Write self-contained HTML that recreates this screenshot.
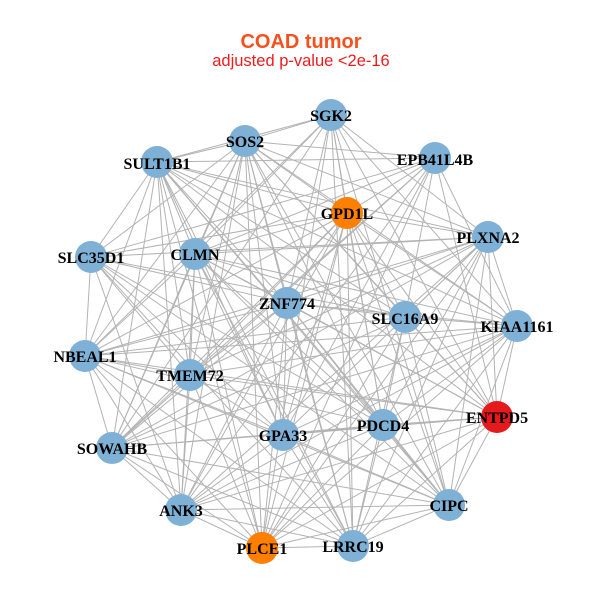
<!DOCTYPE html>
<html><head><meta charset="utf-8"><style>
html,body{margin:0;padding:0;background:#fff;}
svg{display:block}
.l{font-family:"Liberation Serif",serif;font-weight:bold;font-size:16px;fill:#000;text-anchor:middle}
</style></head><body>
<svg id="s" width="600" height="600" viewBox="0 0 600 600">
<rect width="600" height="600" fill="#fff"/>
<text x="301" y="48" text-anchor="middle" font-family="Liberation Sans,sans-serif" font-weight="bold" font-size="20" fill="#f4511e">COAD tumor</text>
<text x="301" y="66" text-anchor="middle" font-family="Liberation Sans,sans-serif" font-size="16.5" fill="#ee1c1c">adjusted p-value &lt;2e-16</text>
<g id="e" stroke="#b3b3b3" stroke-width="1"></g>
<g id="n"></g>
<g>
<text class="l" x="331" y="121">SGK2</text>
<text class="l" x="245" y="147">SOS2</text>
<text class="l" x="157" y="169">SULT1B1</text>
<text class="l" x="435" y="165">EPB41L4B</text>
<text class="l" x="347" y="219">GPD1L</text>
<text class="l" x="488" y="243">PLXNA2</text>
<text class="l" x="91" y="263">SLC35D1</text>
<text class="l" x="195" y="260">CLMN</text>
<text class="l" x="287" y="309">ZNF774</text>
<text class="l" x="405" y="324">SLC16A9</text>
<text class="l" x="517" y="332">KIAA1161</text>
<text class="l" x="85" y="362">NBEAL1</text>
<text class="l" x="190" y="381">TMEM72</text>
<text class="l" x="497" y="423">ENTPD5</text>
<text class="l" x="383" y="431">PDCD4</text>
<text class="l" x="283" y="441">GPA33</text>
<text class="l" x="112" y="454">SOWAHB</text>
<text class="l" x="449" y="511">CIPC</text>
<text class="l" x="181" y="516">ANK3</text>
<text class="l" x="262" y="554">PLCE1</text>
<text class="l" x="353" y="552">LRRC19</text>
</g>
</svg>
<script>
var N=[[331,115,0],[245,141,0],[157,162,0],[435,158,0],[347,213,1],[488,237,0],[91,257,0],[195,254,0],[287,303,0],[405,317,0],[517,326,0],[85,356,0],[190,375,0],[497,417,2],[383,425,0],[283,435,0],[112,448,0],[449,505,0],[181,510,0],[262,548,1],[353,546,0]];
var C=["#7fb0d5","#ff7f00","#e41a1c"];
var ns="http://www.w3.org/2000/svg",e=document.getElementById("e"),g=document.getElementById("n");
for(var i=0;i<N.length;i++)for(var j=i+1;j<N.length;j++){if((i*7+j*3)%9==0)continue;var l=document.createElementNS(ns,"line");l.setAttribute("x1",N[i][0]);l.setAttribute("y1",N[i][1]);l.setAttribute("x2",N[j][0]);l.setAttribute("y2",N[j][1]);e.appendChild(l);}
N.forEach(function(p){var c=document.createElementNS(ns,"circle");c.setAttribute("cx",p[0]);c.setAttribute("cy",p[1]);c.setAttribute("r",16);c.setAttribute("fill",C[p[2]]);g.appendChild(c);});
</script>
</body></html>
